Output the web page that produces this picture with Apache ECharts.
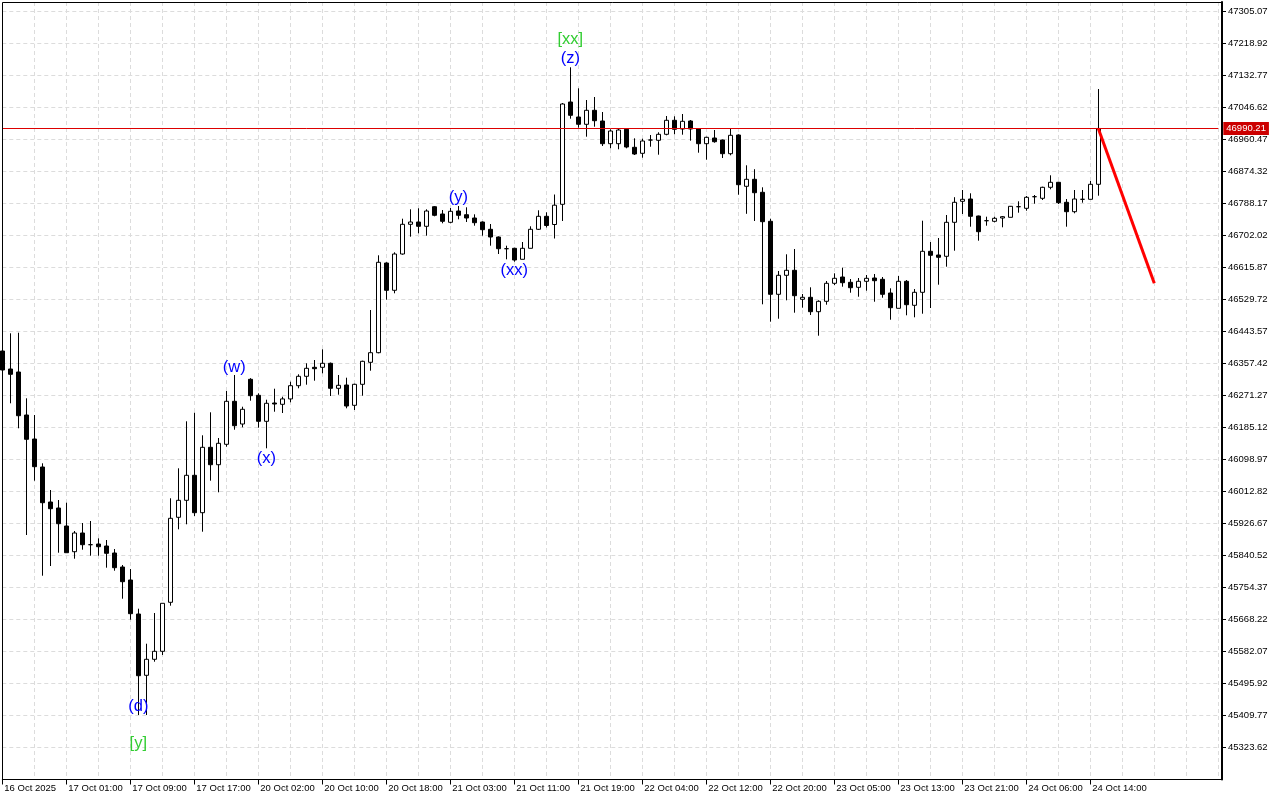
<!DOCTYPE html>
<html>
<head>
<meta charset="utf-8">
<script src="https://cdn.jsdelivr.net/npm/echarts@6/dist/echarts.min.js"></script>
<style>
html,body{margin:0;padding:0;background:#fff;}
#chart{width:1280px;height:800px;}
</style>
</head>
<body>
<div id="chart"></div>
<script>
// ---- DATA ----
const tickLabels = ['16 Oct 2025','17 Oct 01:00','17 Oct 09:00','17 Oct 17:00','20 Oct 02:00','20 Oct 10:00','20 Oct 18:00','21 Oct 03:00','21 Oct 11:00','21 Oct 19:00','22 Oct 04:00','22 Oct 12:00','22 Oct 20:00','23 Oct 05:00','23 Oct 13:00','23 Oct 21:00','24 Oct 06:00','24 Oct 14:00'];

const openP = [46391.07,46342.61,46334.53,46218.77,46154.15,46078.77,45984.55,45968.39,45919.93,45850.74,
45901.09,45869.59,45871.47,45866.09,45847.24,45809.55,45774.55,45683.02,45517.99,45561.06,
45582.60,45714.52,45943.35,45989.12,46056.43,45955.74,46131.81,46084.96,46139.89,46255.65,
46194.54,46314.88,46271.80,46201.79,46251.07,46247.57,46262.03,46297.65,46322.95,46347.18,
46347.18,46357.95,46290.65,46299.53,46244.88,46301.42,46360.65,46386.49,46627.98,46554.48,
46652.21,46732.17,46738.36,46726.78,46779.55,46759.90,46737.55,46767.98,46758.01,46749.13,
46738.36,46718.71,46697.98,46666.48,46667.56,46637.94,46667.56,46718.71,46753.71,46731.63,
46786.01,47061.43,47021.04,47001.39,47039.08,47010.27,46949.16,46949.16,46987.93,46939.47,
46923.32,46959.12,46958.31,46974.47,47012.16,46988.74,47010.27,46989.54,46949.16,46964.51,
46959.12,46922.24,46972.58,46834.47,46853.32,46818.32,46740.25,46543.70,46594.87,46608.33,
46530.26,46535.64,46496.87,46524.87,46573.33,46590.29,46576.02,46562.56,46578.71,46587.60,
46584.10,46547.22,46506.03,46578.71,46514.10,46549.10,46659.48,46649.52,46646.02,46737.55,
46794.09,46800.28,46754.51,46741.86,46740.25,46749.13,46751.01,46779.55,46775.24,46806.47,
46802.17,46831.78,46845.24,46791.40,46766.09,46799.47,46799.47,46839.86];

const closeP = [46339.92,46328.34,46216.88,46153.35,46079.58,45982.66,45966.51,45926.12,45848.05,45901.09,
45869.59,45869.59,45864.20,45846.44,45807.67,45769.98,45683.83,45516.91,45561.06,45582.60,
45711.83,45940.66,45989.12,46056.43,45955.74,46131.81,46084.96,46142.58,46255.65,46189.96,
46234.11,46270.73,46201.79,46250.27,46248.38,46262.03,46297.65,46322.95,46344.49,46343.42,
46357.95,46290.65,46298.73,46243.00,46301.42,46363.34,46386.49,46629.87,46554.48,46652.21,
46732.17,46738.36,46726.78,46767.98,46756.40,46740.25,46767.17,46756.40,46749.13,46736.48,
46717.63,46697.98,46666.48,46666.48,46636.06,46667.56,46718.71,46753.71,46728.94,46783.59,
47056.04,47025.62,47001.39,47039.08,47011.08,46949.16,46983.35,46986.04,46940.28,46921.43,
46956.43,46959.12,46974.47,47012.16,46987.93,47009.47,46988.74,46949.16,46966.39,46954.54,
46922.24,46971.78,46838.78,46853.32,46817.24,46739.17,46543.70,46594.87,46608.33,46539.95,
46535.64,46496.87,46524.87,46573.33,46586.79,46574.94,46561.48,46578.71,46586.79,46580.33,
46543.70,46507.64,46578.71,46515.72,46549.10,46659.48,46648.71,46643.33,46737.55,46791.40,
46799.47,46753.71,46712.25,46741.86,46748.32,46752.63,46780.63,46779.55,46804.86,46806.47,
46831.78,46845.24,46790.32,46766.09,46800.28,46799.47,46839.86,46990.21];

const lowP = [46334.53,46250.27,46182.96,45895.70,46041.89,45786.13,45812.24,45848.05,45848.05,45831.90,
45856.13,45839.97,45839.97,45807.67,45799.59,45724.21,45667.67,45411.11,45411.11,45554.60,
45572.64,45705.37,45911.05,45924.51,45946.85,45904.59,46041.89,46010.66,46133.42,46179.19,
46185.65,46257.27,46184.58,46129.12,46227.65,46224.15,46252.96,46290.65,46300.34,46311.11,
46331.03,46269.92,46273.42,46236.81,46232.23,46270.73,46338.03,46384.88,46529.18,46546.41,
46650.33,46698.79,46707.94,46701.48,46753.71,46734.86,46734.86,46745.63,46738.36,46728.40,
46701.48,46674.56,46652.21,46637.94,46631.48,46637.94,46667.56,46716.82,46723.55,46693.94,
46741.05,47016.47,46992.24,46968.01,46994.93,46942.97,46936.78,46934.08,46936.78,46918.74,
46911.47,46941.08,46919.55,46971.78,46974.47,46973.39,46957.24,46924.93,46906.09,46951.85,
46910.66,46917.93,46811.86,46760.44,46741.05,46516.79,46469.95,46478.01,46527.56,46494.18,
46507.64,46487.99,46432.26,46515.72,46568.75,46564.17,46548.02,46537.25,46553.41,46523.79,
46534.56,46475.33,46506.03,46487.18,46481.78,46491.49,46506.83,46569.56,46618.02,46661.09,
46759.90,46725.71,46688.02,46728.40,46737.55,46724.09,46751.01,46763.40,46768.78,46787.63,
46797.59,46826.40,46786.82,46725.71,46761.78,46790.32,46799.47,46809.17];

const highP = [46412.61,46438.72,46440.33,46263.73,46218.77,46088.73,46016.85,45989.93,45982.66,45906.47,
45928.01,45933.39,45886.82,45882.24,45858.01,45814.94,45804.17,45697.29,45603.06,45685.71,
45711.83,45994.51,46075.27,46201.79,46224.96,46164.12,46226.04,46156.85,46283.38,46326.45,
46241.11,46318.00,46277.19,46259.96,46289.57,46268.03,46308.42,46328.34,46357.95,46366.84,
46395.64,46360.00,46326.45,46319.19,46303.00,46365.00,46501.45,46648.71,46630.00,46656.79,
46747.25,46772.55,46775.24,46772.55,46781.44,46770.67,46776.05,46781.44,46777.94,46759.09,
46740.00,46732.98,46699.50,46674.56,46669.00,46684.52,46726.78,46769.86,46764.48,46812.40,
47058.73,47154.84,47098.31,47066.81,47074.89,47034.50,46987.93,46989.54,46990.00,46963.70,
46962.62,46972.58,46979.85,47023.73,47022.93,47029.12,47012.97,46991.00,46968.00,46986.04,
46960.50,46988.74,46974.47,46891.01,46880.51,46831.78,46747.25,46606.44,46651.40,46665.67,
46544.52,46562.56,46527.56,46579.52,46600.25,46615.33,46584.91,46587.60,46595.67,46598.37,
46590.29,46559.87,46592.98,46582.21,46557.98,46741.86,46684.52,46695.29,46757.21,46805.13,
46824.51,46815.63,46755.50,46752.63,46752.63,46754.51,46781.50,46794.09,46808.36,46811.05,
46833.40,46864.09,46846.50,46800.28,46824.51,46824.51,46848.74,47096.42];

const currentPrice = 46990.21;
const projectionX = [137, 144];
const projectionY = [46990.21, 46573.33];

const waveIdx    = [71, 71, 57, 64, 29, 33, 17, 17];
const wavePrice  = [47231.0, 47179.9, 46805.7, 46609.1, 46348.0, 46103.0, 45435.3, 45335.7];
const waveText   = ['[xx]', '(z)', '(y)', '(xx)', '(w)', '(x)', '(d)', '[y]'];
const waveGreen  = [true, false, false, false, false, false, false, true];

const yTicksMin = 45237.47, yTicksStep = 86.15, yTop = 47330.65;
const slotCount = 153;

// ---- BUILD ----
const categories = Array.from({length: slotCount}, (_, i) => String(i));
const candles = openP.map((o, i) => [o, closeP[i], lowP[i], highP[i]]);
const labelled = (idx) => idx % 8 === 0 && idx / 8 < tickLabels.length;

const chart = echarts.init(document.getElementById('chart'), null, {renderer: 'canvas'});
const gridStyle = {color: '#dcdcdc', width: 1, type: [4, 3]};
const axisFont = 'Liberation Sans, Arial, sans-serif';

chart.setOption({
  animation: false,
  backgroundColor: '#ffffff',
  grid: {left: 2.3, right: 61.7, top: 2, bottom: 20.5, containLabel: false},
  xAxis: {
    type: 'category',
    data: categories,
    boundaryGap: false,
    axisLine: {show: true, lineStyle: {color: '#000', width: 1}},
    axisTick: {show: true, length: 5, interval: (i) => labelled(i), lineStyle: {color: '#000'}},
    axisLabel: {
      interval: (i) => labelled(i),
      formatter: (v, i) => labelled(i) ? tickLabels[i / 8] : '',
      align: 'left', margin: 4, padding: [0, 0, 0, 2],
      color: '#000', fontSize: 9.5, fontFamily: axisFont
    },
    splitLine: {show: true, interval: 3, lineStyle: gridStyle}
  },
  yAxis: {
    type: 'value', position: 'right', offset: 3.7,
    min: yTicksMin, max: yTop, interval: yTicksStep, scale: true,
    axisLine: {show: true, lineStyle: {color: '#000', width: 2}},
    axisTick: {show: true, length: 4, lineStyle: {color: '#000'}},
    axisLabel: {
      formatter: (v) => v.toFixed(2), showMinLabel: false, showMaxLabel: false,
      margin: 6, color: '#000', fontSize: 9.5, fontFamily: axisFont
    },
    splitLine: {show: true, lineStyle: gridStyle}
  },
  graphic: [{
    type: 'rect', z: 100, silent: true,
    shape: {x: 2.5, y: 2.5, width: 1219.5, height: 777},
    style: {fill: 'none', stroke: '#000', lineWidth: 1}
  }],
  series: [
    {
      type: 'candlestick',
      data: candles,
      barWidth: 4,
      itemStyle: {color: '#ffffff', color0: '#000000', borderColor: '#000000', borderColor0: '#000000', borderWidth: 1},
      markLine: {
        silent: true, symbol: ['none', 'none'],
        data: [{yAxis: currentPrice}],
        lineStyle: {color: '#dd0000', width: 1, type: 'solid'},
        label: {
          show: true, position: 'end', distance: 5,
          formatter: () => currentPrice.toFixed(2),
          color: '#fff', backgroundColor: '#cc0000', padding: [2, 3, 1, 3],
          fontSize: 9.5, fontFamily: axisFont
        }
      }
    },
    {
      type: 'line',
      data: projectionX.map((x, k) => [x, projectionY[k]]),
      symbol: 'none',
      lineStyle: {color: '#ff0000', width: 3},
      z: 5
    },
    {
      type: 'scatter',
      symbolSize: 1,
      itemStyle: {color: 'rgba(0,0,0,0)', opacity: 1},
      emphasis: {disabled: true},
      z: 6,
      data: waveIdx.map((x, k) => ({
        value: [x, wavePrice[k]],
        label: {
          show: true, position: 'inside', formatter: waveText[k], opacity: 1,
          color: waveGreen[k] ? '#32cd32' : '#0000ff',
          fontSize: 16.5, fontFamily: 'Liberation Sans, Arial, sans-serif'
        }
      }))
    }
  ]
});
</script>
</body>
</html>
